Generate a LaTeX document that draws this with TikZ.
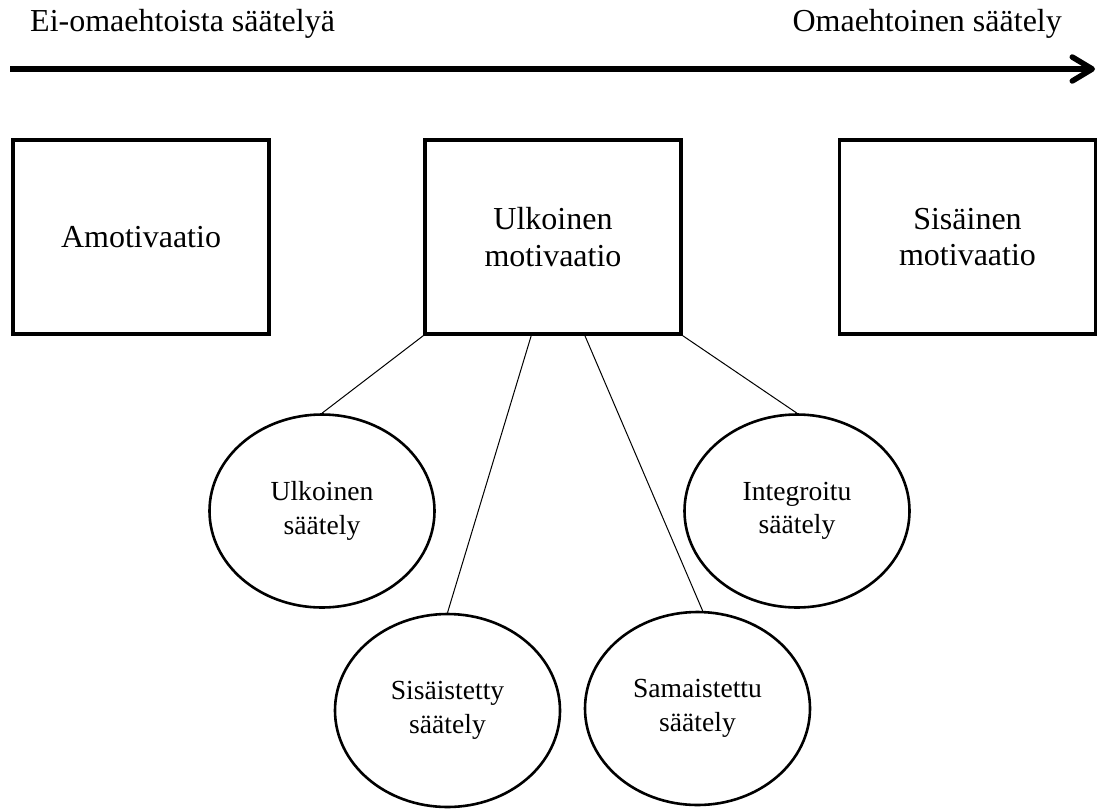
\documentclass[tikz,border=0pt]{standalone}
\usepackage{fontspec}
\setmainfont{Liberation Serif}
\usetikzlibrary{shapes.geometric,arrows.meta,calc}

\begin{document}
\begin{tikzpicture}[x=1pt,y=-1pt,
  boxnode/.style={draw,line width=3.2pt,minimum width=256pt,minimum height=194pt,
    inner sep=0pt,align=center,font=\fontsize{32}{36.8}\selectfont},
  bubble/.style={draw,ellipse,line width=2.6pt,minimum width=225pt,minimum height=193pt,
    inner sep=0pt,align=center,font=\fontsize{27.6}{33.5}\selectfont},
  link/.style={line width=1pt},
  headline/.style={inner sep=0pt,font=\fontsize{32}{36.8}\selectfont},
  axis/.style={line width=5.5pt,-{Straight Barb[length=20pt,width=24pt,round]}}
]
\useasboundingbox (0,0) rectangle (1097,809);

% scale of self-determination
\node[headline,anchor=base west] (lefthead) at (30,31.5) {Ei-omaehtoista säätelyä};
\node[headline,anchor=base east] (righthead) at (1062,31.5) {Omaehtoinen säätely};
\coordinate (axisL) at (10,69);
\coordinate (axisR) at (1095,69);
\draw[axis] (axisL) -- (axisR);

% motivation types
\node[boxnode] (b1) at (141,237) {Amotivaatio};
\node[boxnode] (b2) at (553,237) {Ulkoinen\\motivaatio};
\node[boxnode] (b3) at (967.5,237) {Sisäinen\\motivaatio};

% regulation styles of extrinsic motivation
\node[bubble] (e1) at (322,511) {Ulkoinen\\säätely};
\node[bubble] (e2) at (447.5,710.5) {Sisäistetty\\säätely};
\node[bubble] (e3) at (697.5,708.5) {Samaistettu\\säätely};
\node[bubble] (e4) at (797,511) {Integroitu\\säätely};

\draw[link] (b2.south west) -- (e1.north);
\draw[link] ($(b2.south west)!0.416!(b2.south east)$) -- (e2.north);
\draw[link] ($(b2.south west)!0.623!(b2.south east)$) -- (e3.87);
\draw[link] (b2.south east) -- (e4.north);
\end{tikzpicture}
\end{document}
